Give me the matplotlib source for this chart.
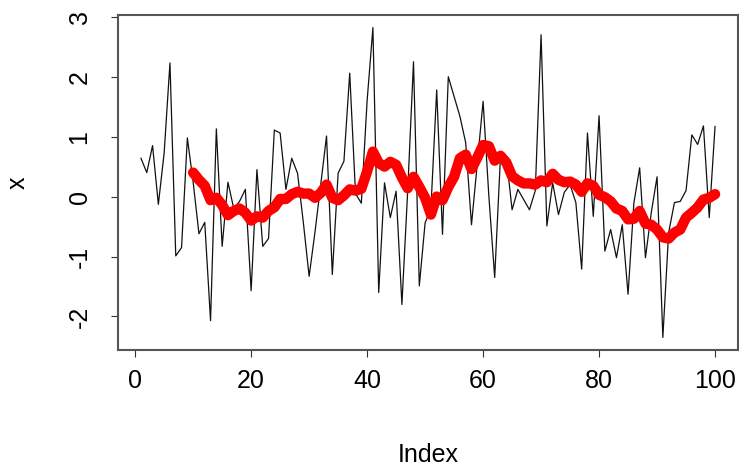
import matplotlib
matplotlib.use("Agg")
import matplotlib.pyplot as plt

plt.rcParams['font.family'] = ['Liberation Sans', 'DejaVu Sans']
plt.rcParams['axes.unicode_minus'] = False

# raw series (index 1..100)
x_vals = [0.64, 0.40, 0.85, -0.13, 0.73, 2.23, -0.99, -0.85, 0.98, 0.24,
          -0.62, -0.43, -2.07, 1.13, -0.83, 0.24, -0.20, -0.08, 0.12, -1.57,
          0.45, -0.83, -0.70, 1.11, 1.06, 0.12, 0.64, 0.39, -0.43, -1.33,
          -0.60, 0.20, 1.01, -1.30, 0.39, 0.59, 2.06, 0.05, -0.11, 1.60,
          2.82, -1.60, 0.23, -0.35, 0.09, -1.80, 0.10, 2.25, -1.49, -0.44,
          -0.20, 1.78, -0.63, 2.00, 1.67, 1.34, 0.90, -0.47, 0.55, 1.59,
          0.00, -1.35, 0.67, 0.67, -0.22, 0.12, -0.05, -0.22, 0.10, 2.70,
          -0.49, 0.23, -0.30, 0.07, 0.20, -0.10, -1.21, 1.06, -0.33, 1.35,
          -0.91, -0.55, -1.02, -0.47, -1.63, -0.11, 0.48, -1.02, -0.27, 0.33,
          -2.35, -0.60, -0.10, -0.08, 0.10, 1.03, 0.87, 1.18, -0.35, 1.17]

# moving average (red), index 10..100
ma_vals = [0.40, 0.28, 0.18, -0.06, -0.02, -0.14, -0.31, -0.24, -0.20, -0.27,
           -0.40, -0.33, -0.35, -0.24, -0.18, -0.04, -0.04, 0.04, 0.08, 0.05,
           0.05, -0.02, 0.06, 0.20, -0.02, -0.06, 0.02, 0.12, 0.10, 0.13,
           0.42, 0.75, 0.56, 0.50, 0.58, 0.53, 0.32, 0.14, 0.33, 0.16,
           -0.02, -0.30, 0.00, -0.06, 0.16, 0.33, 0.64, 0.70, 0.46, 0.65,
           0.86, 0.84, 0.60, 0.68, 0.57, 0.34, 0.27, 0.22, 0.22, 0.20,
           0.27, 0.24, 0.38, 0.28, 0.24, 0.25, 0.20, 0.08, 0.22, 0.18,
           0.03, -0.01, -0.08, -0.20, -0.24, -0.38, -0.37, -0.24, -0.45, -0.47,
           -0.55, -0.68, -0.70, -0.60, -0.55, -0.35, -0.27, -0.18, -0.05, -0.02,
           0.04]

idx = list(range(1, len(x_vals) + 1))
ma_idx = list(range(10, 10 + len(ma_vals)))

fig = plt.figure(figsize=(7.39, 4.69), dpi=100)
ax = fig.add_axes([118 / 739, 1 - 350 / 469, 620 / 739, 335 / 469])

ax.plot(idx, x_vals, color='#111111', linewidth=0.9)
ax.plot(ma_idx, ma_vals, color='red', linewidth=7.5, solid_capstyle='round')

ax.set_xlim(-2.96, 103.96)
ax.set_ylim(-2.56, 3.03)
ax.set_xticks([0, 20, 40, 60, 80, 100])
ax.set_yticks([-2, -1, 0, 1, 2, 3])
ax.tick_params(axis='both', direction='out', length=5, width=0.8,
               labelsize=18, color='#333333')
ax.tick_params(axis='x', pad=9)
ax.tick_params(axis='y', pad=14)
for lab in ax.get_yticklabels():
    lab.set_rotation(90)
    lab.set_va('center')

for side in ['top', 'right', 'left', 'bottom']:
    ax.spines[side].set_color('#555555')
    ax.spines[side].set_linewidth(1.5)

ax.set_xlabel('Index', fontsize=18, labelpad=36)
ax.set_ylabel('x', fontsize=18, labelpad=27)

fig.savefig('out.png', dpi=100)
